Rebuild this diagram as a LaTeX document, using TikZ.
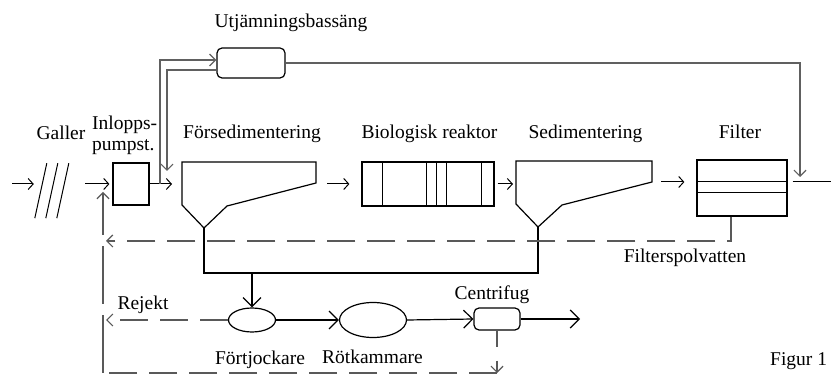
\documentclass[tikz,border=0pt]{standalone}
\usepackage{fontspec}
\setmainfont{Liberation Serif}
\usetikzlibrary{arrows.meta,shapes.geometric}
\begin{document}
\begin{tikzpicture}[x=1pt, y=-1pt]
	\tikzstyle{txt}=[inner sep=0pt, font=\fontsize{19.5}{21}\selectfont]
	\tikzstyle{box}=[rectangle, draw=black, line width=1.2pt, inner sep=0pt]
	\tikzstyle{rbox}=[box, rounded corners=5pt]
	\tikzstyle{tank}=[ellipse, draw=black, line width=1.2pt, inner sep=0pt]
	\tikzstyle{flow}=[line width=1pt, -{Straight Barb[length=5pt, width=11pt]}]
	\tikzstyle{sludge}=[line width=1.2pt, -{Straight Barb[length=9pt, width=18pt]}]
	\tikzstyle{bypass}=[gray!75!black, line width=1.2pt, -{Straight Barb[length=6pt, width=12pt]}]
	\tikzstyle{back}=[gray!70!black, line width=1.2pt, dash pattern=on 28pt off 12pt, -{Straight Barb[length=6pt, width=12pt]}]
	\useasboundingbox (0,0) rectangle (831,374);
	% Labels
	\node at (291,28) [txt, anchor=base] (utj_txt) {Utjämningsbassäng};
	\node at (61,140) [txt, anchor=base] (gal_txt) {Galler};
	\node at (92,130) [txt, anchor=base west] (pump_txt1) {Inlopps-};
	\node at (92,151) [txt, anchor=base west] (pump_txt2) {pumpst.};
	\node at (252,139) [txt, anchor=base] (fsed_txt) {Försedimentering};
	\node at (429.5,139) [txt, anchor=base] (bio_txt) {Biologisk reaktor};
	\node at (585.5,139) [txt, anchor=base] (sed_txt) {Sedimentering};
	\node at (740,139) [txt, anchor=base] (filt_txt) {Filter};
	\node at (685,263) [txt, anchor=base] (wash_txt) {Filterspolvatten};
	\node at (143,310) [txt, anchor=base] (rej_txt) {Rejekt};
	\node at (492,300) [txt, anchor=base] (cent_txt) {Centrifug};
	\node at (260,365) [txt, anchor=base] (fortj_txt) {Förtjockare};
	\node at (372.5,363) [txt, anchor=base] (rot_txt) {Rötkammare};
	\node at (770,366) [txt, anchor=base west] (fig_txt) {Figur 1};
	%---------------------%
	% Units
	\node at (51.5,190.5) [minimum width=33, minimum height=55, inner sep=0pt] (gal) {};
	\foreach \x in {0,11,22}
		\draw[line width=1pt] ([xshift=\x]gal.south west) -- ([xshift=\x+12, yshift=55]gal.south west);
	\node at (131,184) [box, minimum width=36, minimum height=42] (pump) {};
	\node at (251,63) [rbox, minimum width=68, minimum height=30] (utj) {};
	% Forsedimentering
	\draw[line width=1.2pt] (182,162) -- (316,162) -- (316,183) -- (227,206) -- (204,228) -- (182,205) -- cycle;
	\coordinate (fsed_in) at (182,184);
	\coordinate (fsed_out) at (316,184);
	\coordinate (fsed_tip) at (204,228);
	% Biologisk reaktor
	\node at (428,184) [box, minimum width=132, minimum height=44] (bio) {};
	\foreach \x in {21,65,75,85,120}
		\draw[line width=1.2pt] ([xshift=\x]bio.north west) -- ([xshift=\x]bio.south west);
	% Sedimentering
	\draw[line width=1.2pt] (516,161) -- (652,161) -- (652,182) -- (562,205) -- (538,227) -- (516,204) -- cycle;
	\coordinate (sed_in) at (516,184);
	\coordinate (sed_out) at (652,182);
	\coordinate (sed_tip) at (538,227);
	% Filter
	\node at (742,188) [box, minimum width=90, minimum height=56] (filt) {};
	\foreach \y in {22,33}
		\draw[line width=1.2pt] ([yshift=-\y]filt.north west) -- ([yshift=-\y]filt.north east);
	% Sludge line
	\node at (252,320) [tank, minimum width=47, minimum height=24] (fortj) {};
	\node at (373,320) [tank, minimum width=67, minimum height=35] (rot) {};
	\node at (497,319) [rbox, minimum width=46, minimum height=22] (cent) {};
	%---------------------%
	% Free ends
	\coordinate (in) at (12,184);
	\coordinate (out) at (838,182);
	\coordinate (split) at (160,184);
	\coordinate (ret_in) at (167,171);
	\coordinate (filt_in) at (800,177);
	\coordinate (sl) at (252,273);
	\coordinate (cake) at (580,319);
	\coordinate (wash) at (106,241);
	\coordinate (rej) at (106,320);
	\coordinate (rbot) at (103,373);
	\coordinate (rtop) at (103,192);
	%---------------------%
	% Water line
	\draw[flow, shorten >=1pt] (in) -- (gal.west |- pump.west);
	\draw[flow, shorten <=17pt, shorten >=3pt] (gal.east |- pump.west) -- (pump.west);
	\draw[flow, shorten >=10pt] (pump.east) -- (fsed_in);
	\draw[flow, shorten <=11pt, shorten >=12pt] (fsed_out) -- (bio.west);
	\draw[flow, shorten <=3pt, shorten >=3pt] (bio.east) -- (sed_in);
	\draw[flow, shorten <=9pt, shorten >=12pt] (sed_out) -- (sed_out -| filt.west);
	\draw[flow, shorten <=5pt] (sed_out -| filt.east) -- (out);
	% Bypass
	\draw[bypass] (split) |- ([yshift=3]utj.west);
	\draw[bypass] ([yshift=-7]utj.west) -| (ret_in);
	\draw[bypass] (utj.east) -| (filt_in);
	% Sludge
	\draw[line width=1.2pt] (fsed_tip) |- (sl) -| (sed_tip);
	\draw[sludge] (sl) -- (fortj.north);
	\draw[sludge] (fortj.east) -- (rot.west);
	\draw[sludge] (rot.east) -- (cent.west);
	\draw[sludge] (cent.east) -- (cake);
	% Return flows
	\draw[back] ([xshift=-11]filt.south) |- (wash);
	\draw[back] (fortj.west) -- (rej);
	\draw[back, dash pattern=on 16pt off 14pt] (cent.south) -- (cent.south |- rbot);
	\draw[back, -] (cent.south |- rbot) -- (rbot);
	\draw[back, dash pattern=on 58pt off 11pt] (rbot) -- (rtop);
	%---------------------%
\end{tikzpicture}
\end{document}
